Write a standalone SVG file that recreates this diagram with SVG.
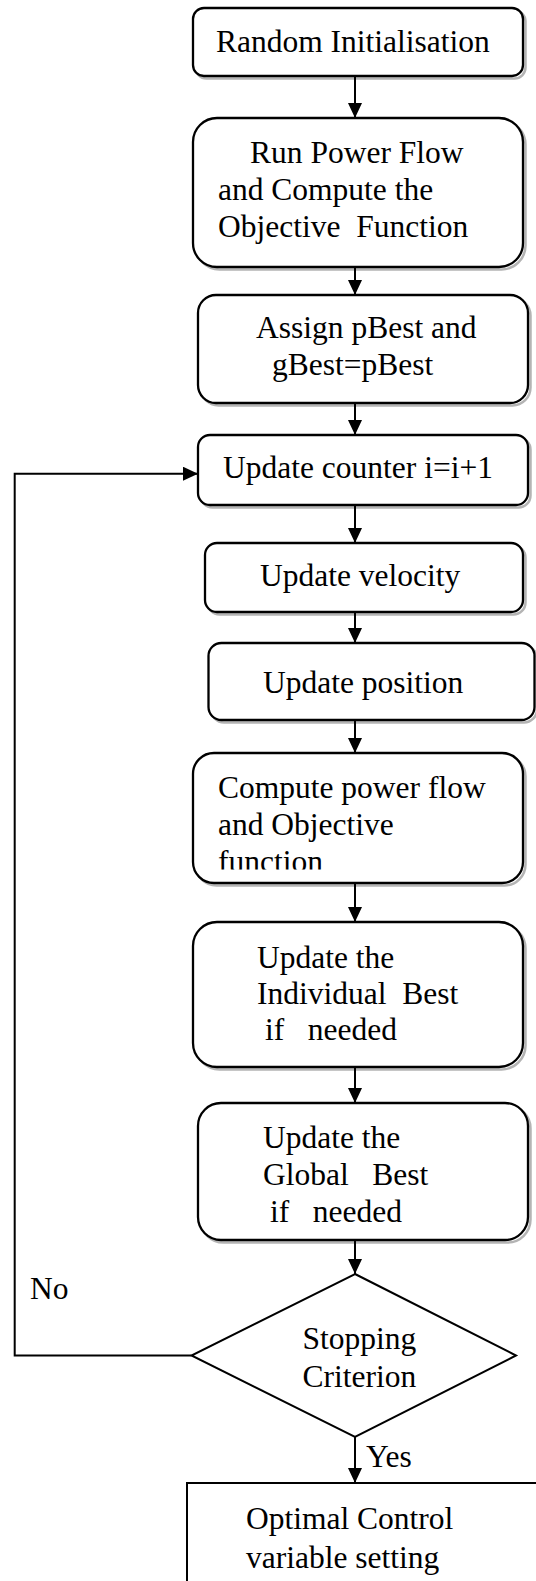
<svg xmlns="http://www.w3.org/2000/svg" width="536" height="1581" viewBox="0 0 536 1581">
  <defs>
    <marker id="arrow" markerUnits="userSpaceOnUse" markerWidth="15" markerHeight="14" refX="15" refY="7" orient="auto" viewBox="0 0 15 14">
      <path d="M0,0 L15,7 L0,14 Z" fill="#000"/>
    </marker>
    <clipPath id="clip-box7">
      <rect x="193" y="753" width="330" height="116.5"/>
    </clipPath>
  </defs>
  <style>
    .box { fill: #fff; stroke: #000; stroke-width: 2.3; }
    .shadow { fill: none; stroke: #b4b4b4; stroke-width: 2.5; }
    .plain { fill: #fff; stroke: #000; stroke-width: 2; }
    .lbl { font-family: "Liberation Serif", "Times New Roman", serif; font-size: 31.5px; fill: #000; }
    .conn { fill: none; stroke: #000; stroke-width: 2; }
  </style>

  <rect width="536" height="1581" fill="#fff"/>

  <!-- process steps -->
  <g id="node-init">
    <rect class="shadow" x="195.5" y="10.5" width="330" height="68" rx="11"/>
    <rect class="box" x="193" y="8" width="330" height="68" rx="11"/>
    <text class="lbl" x="216" y="52">Random Initialisation</text>
  </g>

  <g id="node-powerflow">
    <rect class="shadow" x="195.5" y="120.5" width="330" height="149" rx="24"/>
    <rect class="box" x="193" y="118" width="330" height="149" rx="24"/>
    <text class="lbl" x="250" y="163">Run Power Flow</text>
    <text class="lbl" x="218" y="200">and Compute the</text>
    <text class="lbl" x="218" y="237" xml:space="preserve">Objective  Function</text>
  </g>

  <g id="node-assign">
    <rect class="shadow" x="200.5" y="297.5" width="330" height="108" rx="18"/>
    <rect class="box" x="198" y="295" width="330" height="108" rx="18"/>
    <text class="lbl" x="256" y="338">Assign pBest and</text>
    <text class="lbl" x="272" y="375">gBest=pBest</text>
  </g>

  <g id="node-counter">
    <rect class="shadow" x="200.5" y="437.5" width="330" height="70" rx="12"/>
    <rect class="box" x="198" y="435" width="330" height="70" rx="12"/>
    <text class="lbl" x="223" y="478">Update counter i=i+1</text>
  </g>

  <g id="node-velocity">
    <rect class="shadow" x="207.5" y="545.5" width="318" height="69" rx="12"/>
    <rect class="box" x="205" y="543" width="318" height="69" rx="12"/>
    <text class="lbl" x="260" y="586">Update velocity</text>
  </g>

  <g id="node-position">
    <rect class="shadow" x="211" y="645.5" width="326" height="77" rx="13"/>
    <rect class="box" x="208.5" y="643" width="326" height="77" rx="13"/>
    <text class="lbl" x="263" y="693">Update position</text>
  </g>

  <g id="node-compute">
    <rect class="shadow" x="195.5" y="755.5" width="330" height="130" rx="21"/>
    <rect class="box" x="193" y="753" width="330" height="130" rx="21"/>
    <g clip-path="url(#clip-box7)">
      <text class="lbl" x="218" y="798">Compute power flow</text>
      <text class="lbl" x="218" y="835">and Objective</text>
      <text class="lbl" x="218" y="872">function</text>
    </g>
  </g>

  <g id="node-individual">
    <rect class="shadow" x="195.5" y="924.5" width="330" height="145" rx="24"/>
    <rect class="box" x="193" y="922" width="330" height="145" rx="24"/>
    <text class="lbl" x="257" y="968">Update the</text>
    <text class="lbl" x="257" y="1004" xml:space="preserve">Individual  Best</text>
    <text class="lbl" x="265" y="1040" xml:space="preserve">if   needed</text>
  </g>

  <g id="node-global">
    <rect class="shadow" x="200.5" y="1105.5" width="330" height="137" rx="23"/>
    <rect class="box" x="198" y="1103" width="330" height="137" rx="23"/>
    <text class="lbl" x="263" y="1148">Update the</text>
    <text class="lbl" x="263" y="1185" xml:space="preserve">Global   Best</text>
    <text class="lbl" x="270" y="1222" xml:space="preserve">if   needed</text>
  </g>

  <!-- decision -->
  <g id="node-stop">
    <polygon class="plain" points="355,1274 516,1355.5 355,1437 191.5,1355.5"/>
    <text class="lbl" x="302.5" y="1349">Stopping</text>
    <text class="lbl" x="302.5" y="1387">Criterion</text>
  </g>

  <!-- result -->
  <g id="node-result">
    <rect class="plain" x="187" y="1483" width="370" height="120"/>
    <text class="lbl" x="246" y="1529">Optimal Control</text>
    <text class="lbl" x="246" y="1568">variable setting</text>
  </g>

  <!-- connectors -->
  <g id="connectors">
    <line class="conn" x1="355" y1="76" x2="355" y2="118" marker-end="url(#arrow)"/>
    <line class="conn" x1="355" y1="267" x2="355" y2="295" marker-end="url(#arrow)"/>
    <line class="conn" x1="355" y1="403" x2="355" y2="435" marker-end="url(#arrow)"/>
    <line class="conn" x1="355" y1="505" x2="355" y2="543" marker-end="url(#arrow)"/>
    <line class="conn" x1="355" y1="612" x2="355" y2="643" marker-end="url(#arrow)"/>
    <line class="conn" x1="355" y1="720" x2="355" y2="753" marker-end="url(#arrow)"/>
    <line class="conn" x1="355" y1="883" x2="355" y2="922" marker-end="url(#arrow)"/>
    <line class="conn" x1="355" y1="1067" x2="355" y2="1103" marker-end="url(#arrow)"/>
    <line class="conn" x1="355" y1="1240" x2="355" y2="1274" marker-end="url(#arrow)"/>
    <line class="conn" x1="355" y1="1437" x2="355" y2="1483" marker-end="url(#arrow)"/>
    <path class="conn" d="M191.5,1355.5 H14.7 V473.7 H198" marker-end="url(#arrow)"/>
    <text class="lbl" x="30" y="1299">No</text>
    <text class="lbl" x="366" y="1467">Yes</text>
  </g>
</svg>
